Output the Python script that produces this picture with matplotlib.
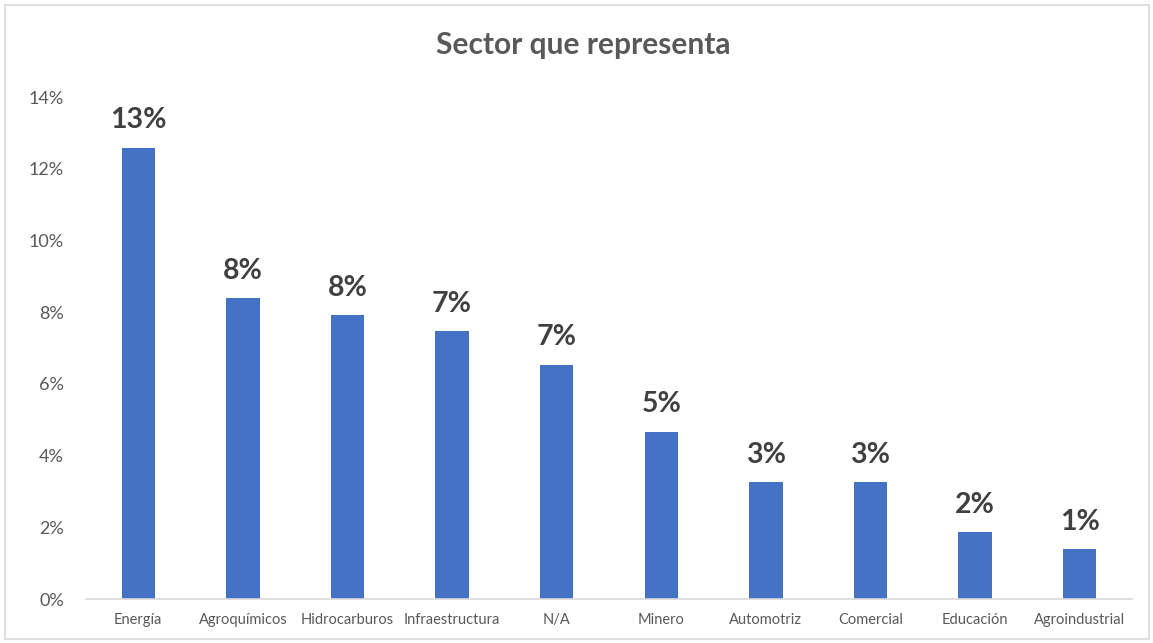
import matplotlib
matplotlib.use("Agg")
import matplotlib.pyplot as plt
from matplotlib.patches import Rectangle
from matplotlib.ticker import PercentFormatter

# Share of respondents by sector
sectors = ["Energía", "Agroquímicos", "Hidrocarburos", "Infraestructura", "N/A",
           "Minero", "Automotriz", "Comercial", "Educación", "Agroindustrial"]
shares = [0.1258, 0.0839, 0.0792, 0.0747, 0.0653,
          0.0466, 0.0326, 0.0326, 0.0187, 0.0139]
y_ticks = [0.00, 0.02, 0.04, 0.06, 0.08, 0.10, 0.12, 0.14]

plt.rcParams["font.family"] = ["Lato", "DejaVu Sans"]

fig = plt.figure(figsize=(11.53, 6.43), dpi=100)
ax = fig.add_axes([86 / 1153, 44 / 643, 1046 / 1153, 502 / 643])

bar_color = "#4472C4"
ax.bar(range(len(sectors)), shares, width=0.32, color=bar_color)

for i, v in enumerate(shares):
    ax.annotate(f"{v:.0%}", (i, v), xytext=(0, 14), textcoords="offset points",
                ha="center", va="baseline", fontsize=20.5, fontweight="bold",
                color="#404040")

ax.set_xlim(-0.5, len(sectors) - 0.5)
ax.set_ylim(0, 0.14)
ax.set_yticks(y_ticks)
ax.yaxis.set_major_formatter(PercentFormatter(1.0, decimals=0))
ax.set_xticks(range(len(sectors)))
ax.set_xticklabels(sectors)

ax.tick_params(axis="x", length=0, pad=10, labelsize=10.5, labelcolor="#595959")
ax.tick_params(axis="y", length=0, pad=16, labelsize=13, labelcolor="#595959")

for side in ["top", "right", "left"]:
    ax.spines[side].set_visible(False)
ax.spines["bottom"].set_color("#D9D9D9")
ax.spines["bottom"].set_linewidth(1.2)

fig.text(583 / 1153, 1 - 45 / 643, "Sector que representa", ha="center",
         va="center", fontsize=21.5, fontweight="bold", color="#595959")

# Chart frame
fig.patches.append(Rectangle((5 / 1153, 4 / 643), 1144 / 1153, 634 / 643,
                             transform=fig.transFigure, fill=False,
                             edgecolor="#D9D9D9", linewidth=1.2))

fig.savefig("out.png", dpi=100)
